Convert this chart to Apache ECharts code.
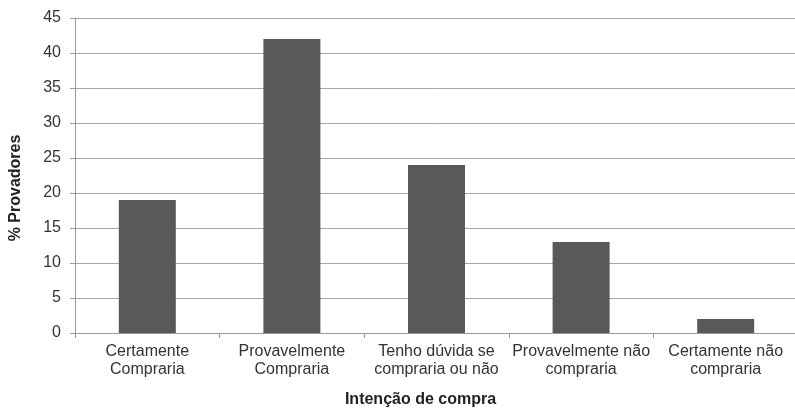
<!DOCTYPE html>
<html>
<head>
<meta charset="utf-8">
<script src="https://cdn.jsdelivr.net/npm/echarts@6/dist/echarts.min.js"></script>
<style>
  html, body { margin: 0; padding: 0; background: #fff; }
  #chart { width: 795px; height: 409px; }
</style>
</head>
<body>
<div id="chart"></div>
<script>
var categorias = ['Certamente\nCompraria', 'Provavelmente\nCompraria', 'Tenho dúvida se\ncompraria ou não', 'Provavelmente não\ncompraria', 'Certamente não\ncompraria'];
var valores = [19, 42, 24, 13, 2];
var eixoY = { min: 0, max: 45, intervalo: 5 };

var myChart = echarts.init(document.getElementById('chart'));
var option = {
    backgroundColor: '#ffffff',
    animation: false,
    textStyle: { fontFamily: 'Liberation Sans, Arial, sans-serif' },
    grid: { left: 75, top: 18, width: 723, bottom: 76, outerBoundsMode: 'none', containLabel: false },
    xAxis: {
        type: 'category',
        data: categorias,
        name: 'Intenção de compra',
        nameLocation: 'middle',
        nameGap: 59,
        nameTextStyle: { fontWeight: 'bold', fontSize: 16, color: '#222', padding: [0, 32, 0, 0] },
        axisLine: { lineStyle: { color: '#9a9a9a', width: 1 } },
        axisTick: { show: true, length: 5, lineStyle: { color: '#9a9a9a' } },
        axisLabel: { fontSize: 16, color: '#333', lineHeight: 18, margin: 10, interval: 0 }
    },
    yAxis: {
        type: 'value',
        min: eixoY.min,
        max: eixoY.max,
        interval: eixoY.intervalo,
        name: '% Provadores',
        nameLocation: 'middle',
        nameGap: 51,
        nameTextStyle: { fontWeight: 'bold', fontSize: 16, color: '#222', padding: [0, 25, 0, 0] },
        axisLine: { show: true, lineStyle: { color: '#9a9a9a', width: 1 } },
        axisTick: { show: true, length: 5, lineStyle: { color: '#9a9a9a' } },
        axisLabel: { fontSize: 16, color: '#333', margin: 14 },
        splitLine: { show: true, lineStyle: { color: '#a6a6a6', width: 1 } }
    },
    series: [{
        type: 'bar',
        data: valores,
        barWidth: 57,
        itemStyle: { color: '#595959' }
    }]
};
myChart.setOption(option);
</script>
</body>
</html>
